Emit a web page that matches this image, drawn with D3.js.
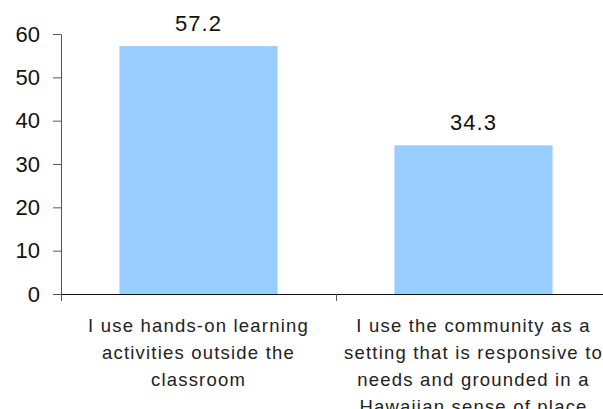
<!DOCTYPE html>
<html>
<head>
<meta charset="utf-8">
<script src="https://cdn.jsdelivr.net/npm/d3@7"></script>
<style>
  html, body { margin: 0; padding: 0; background: #fff; }
  svg { display: block; }
</style>
</head>
<body>
<div id="chart"></div>
<script>
// Data
const categories = [
    "I use hands-on learning activities outside the classroom",
    "I use the community as a setting that is responsive to needs and grounded in a Hawaiian sense of place"
];
const categoryLines = [
    ["I use hands-on learning", "activities outside the", "classroom"],
    ["I use the community as a", "setting that is responsive to", "needs and grounded in a", "Hawaiian sense of place"]
];
const values = [57.2, 34.3];
const yTicks = [0, 10, 20, 30, 40, 50, 60];

const W = 603, H = 409;
const margin = { top: 34, left: 61, bottom: 115 };
const plotW = 550;
const plotH = H - margin.top - margin.bottom;

const svg = d3.select("#chart").append("svg")
    .attr("width", W)
    .attr("height", H);

const g = svg.append("g")
    .attr("transform", "translate(" + margin.left + "," + margin.top + ")");

// Scales
const x = d3.scaleBand()
    .domain(categories)
    .range([0, plotW])
    .paddingInner(0.425)
    .paddingOuter(0.2125);

const xEdge = d3.scaleLinear()
    .domain([0, categories.length])
    .range([0, plotW]);

const y = d3.scaleLinear()
    .domain([0, 60])
    .range([plotH, 0]);

// Bars
g.selectAll(".bar")
    .data(values)
    .enter()
    .append("rect")
    .attr("class", "bar")
    .attr("x", (d, i) => x(categories[i]))
    .attr("width", x.bandwidth())
    .attr("y", d => y(d))
    .attr("height", d => plotH - y(d))
    .attr("fill", "#99ccff");

// Value labels
g.selectAll(".val")
    .data(values)
    .enter()
    .append("text")
    .attr("class", "val")
    .attr("x", (d, i) => x(categories[i]) + x.bandwidth() / 2)
    .attr("y", d => y(d) - 15)
    .attr("text-anchor", "middle")
    .style("font-family", "'Liberation Sans', Arial, sans-serif")
    .style("font-size", "22px")
    .style("letter-spacing", "1px")
    .style("fill", "#111")
    .text(d => d.toFixed(1));

// Y axis
const yAxis = g.append("g")
    .attr("class", "y axis")
    .call(d3.axisLeft(y).tickValues(yTicks).tickSize(8).tickPadding(13).tickSizeOuter(0));
yAxis.select(".domain").attr("stroke", "#555");
yAxis.selectAll(".tick line").attr("stroke", "#555");
yAxis.selectAll("text")
    .style("font-family", "'Liberation Sans', Arial, sans-serif")
    .style("font-size", "22px")
    .style("fill", "#111");

// X axis (ticks at category boundaries)
const xAxis = g.append("g")
    .attr("class", "x axis")
    .attr("transform", "translate(0," + plotH + ")")
    .call(d3.axisBottom(xEdge).tickValues(d3.range(categories.length + 1)).tickSize(7).tickFormat("").tickSizeOuter(0));
xAxis.select(".domain").attr("stroke", "#111");
xAxis.selectAll(".tick line").attr("stroke", "#555");

// Category labels
const labels = g.selectAll(".cat")
    .data(categoryLines)
    .enter()
    .append("text")
    .attr("class", "cat")
    .attr("text-anchor", "middle")
    .attr("transform", (d, i) => "translate(" + (x(categories[i]) + x.bandwidth() / 2) + "," + (plotH + 38) + ")")
    .style("font-family", "'Liberation Sans', Arial, sans-serif")
    .style("font-size", "18.5px")
    .style("letter-spacing", "1.2px")
    .style("fill", "#222");

labels.selectAll("tspan")
    .data(d => d)
    .enter()
    .append("tspan")
    .attr("x", 0)
    .attr("y", (d, i) => i * 27)
    .text(d => d);
</script>
</body>
</html>
